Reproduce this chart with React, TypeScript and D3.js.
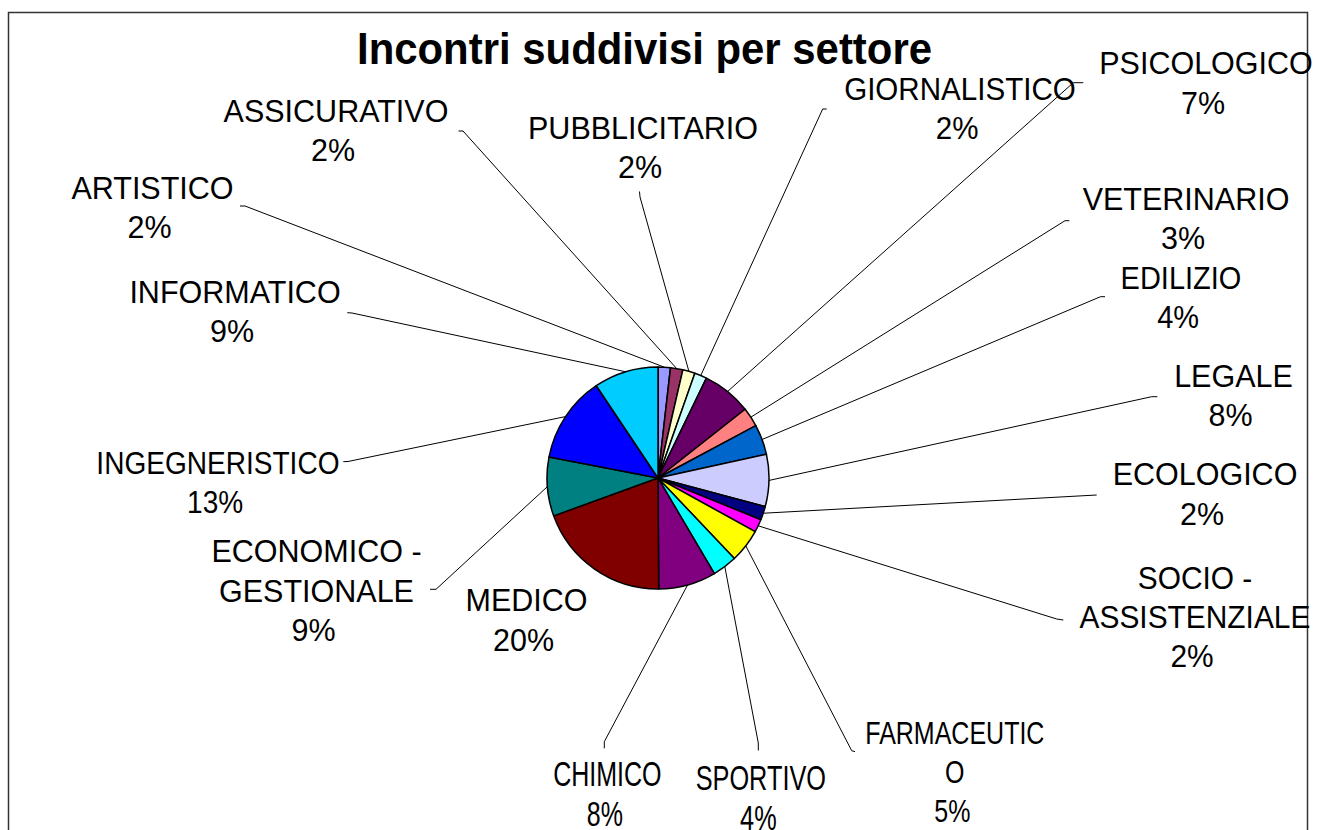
import React from "react";
import * as d3 from "d3";

// ---- data ----
const categories = [
  "ARTISTICO", "ASSICURATIVO", "PUBBLICITARIO", "GIORNALISTICO", "PSICOLOGICO",
  "VETERINARIO", "EDILIZIO", "LEGALE", "ECOLOGICO", "SOCIO - ASSISTENZIALE",
  "FARMACEUTICO", "SPORTIVO", "CHIMICO", "MEDICO", "ECONOMICO - GESTIONALE",
  "INGEGNERISTICO", "INFORMATICO",
];
const values = [1.8, 1.8, 1.8, 1.8, 7.2, 2.8, 4.4, 7.6, 2.0, 1.9, 4.9, 3.6, 8.4, 19.6, 8.6, 12.6, 9.4];
const labelNames = [
  ["ARTISTICO"], ["ASSICURATIVO"], ["PUBBLICITARIO"], ["GIORNALISTICO"], ["PSICOLOGICO"],
  ["VETERINARIO"], ["EDILIZIO"], ["LEGALE"], ["ECOLOGICO"], ["SOCIO -", "ASSISTENZIALE"],
  ["FARMACEUTIC", "O"], ["SPORTIVO"], ["CHIMICO"], ["MEDICO"], ["ECONOMICO -", "GESTIONALE"],
  ["INGEGNERISTICO"], ["INFORMATICO"],
];
const title = "Incontri suddivisi per settore";

// ---- styles / layout ----
const colors = [
  "#9999FF", "#993366", "#FFFFCC", "#CCFFFF", "#660066", "#FF8080", "#0066CC", "#CCCCFF",
  "#000080", "#FF00FF", "#FFFF00", "#00FFFF", "#800080", "#800000", "#008080", "#0000FF", "#00CCFF",
];
// label centre x, first baseline y
const labelPos: [number, number][] = [
  [151.5, 198.5], [335, 121.5], [642, 138.5], [959, 99.5], [1205, 74],
  [1185, 209.5], [1180, 288.5], [1232.5, 386.5], [1204, 485], [1194, 588.5],
  [954, 743.5], [760, 790], [606.5, 786], [525.5, 611], [315.5, 562],
  [217, 473.5], [234, 302.5],
];
// text distortion per label (horizontal, vertical)
const labelScaleX = [1, 1, 1, 0.97, 1, 1, 0.95, 1, 1, 0.98, 0.82, 0.83, 0.82, 1, 1, 0.92, 1];
const labelScaleY = [1, 1, 1, 1, 1, 1, 1, 1, 1, 1, 1, 1.13, 1.13, 1, 1, 1, 1];
// leader line label-side points (null = no leader)
const leaderPts: ([number, number][] | null)[] = [
  [[240, 206], [245, 206]],
  [[458.5, 131], [463, 131]],
  [[639.5, 191.5], [640, 197]],
  [[826.7, 109], [822.7, 109]],
  [[1083.3, 82.7], [1073.3, 82.7]],
  [[1069.3, 220.7], [1065, 220.7]],
  [[1105, 296.7], [1100.5, 296.7]],
  [[1157.3, 396.7], [1151.7, 396.7]],
  [[1096.7, 495]],
  [[1063.3, 620], [1056.7, 619]],
  [[855, 751.7], [851.7, 750.7]],
  [[758.3, 750.5], [758.3, 743]],
  [[604.3, 748.3], [604.3, 741.7]],
  null,
  [[430, 589.3], [436, 589.3]],
  [[343.3, 461.7], [348, 461.5]],
  [[347.3, 312.7], [352, 313]],
];

const W = 1317, H = 830;
const cx = 658, cy = 478, R = 111;
const FONT = "'Liberation Sans', Arial, Helvetica, sans-serif";
const LINE_H = 39.5;

export default function App() {
  const total = d3.sum(values);
  const pie = d3.pie<number>().sort(null).value((d) => d).startAngle(0).endAngle(2 * Math.PI);
  const arcs = pie(values);
  const arc = d3.arc<d3.PieArcDatum<number>>().innerRadius(0).outerRadius(R);
  const edge = d3.arc<d3.PieArcDatum<number>>().innerRadius(R).outerRadius(R);
  const fmt = (v: number) => `${Math.round((v / total) * 100)}%`;

  return (
    <svg width={W} height={H} style={{ position: "absolute", left: 0, top: 0, background: "#fff" }}>
      <rect x={8.5} y={12.5} width={1299} height={900} fill="#fff" stroke="#333" strokeWidth={1.5} />
      <text
        x={644.5}
        y={64}
        textAnchor="middle"
        fontFamily={FONT}
        fontWeight="bold"
        fontSize={44}
        textLength={575}
        lengthAdjust="spacingAndGlyphs"
      >
        {title}
      </text>
      <g transform={`translate(${cx},${cy})`}>
        {arcs.map((a, i) => (
          <path key={categories[i]} d={arc(a) || ""} fill={colors[i]} stroke="#000" strokeWidth={1.5} strokeLinejoin="round" />
        ))}
      </g>
      <g fill="none" stroke="#000" strokeWidth={1}>
        {arcs.map((a, i) => {
          const pts = leaderPts[i];
          if (!pts) return null;
          const [ex, ey] = edge.centroid(a);
          const all: [number, number][] = [...pts, [cx + ex, cy + ey]];
          return <path key={"l" + i} d={d3.line()(all) || ""} />;
        })}
      </g>
      <g fontFamily={FONT} fontSize={30.5} fill="#000" textAnchor="middle">
        {arcs.map((a, i) => {
          const [lx, ly] = labelPos[i];
          const sx = labelScaleX[i], sy = labelScaleY[i];
          const lines = [...labelNames[i], fmt(a.data)];
          const lh = (sy > 1 ? 40.5 : LINE_H) / sy;
          return (
            <text key={"t" + i} transform={`translate(${lx},${ly}) scale(${sx},${sy})`}>
              {lines.map((s, j) => (
                <tspan key={j} x={j === lines.length - 1 ? -2 : 1} y={j * lh}>
                  {s}
                </tspan>
              ))}
            </text>
          );
        })}
      </g>
    </svg>
  );
}
